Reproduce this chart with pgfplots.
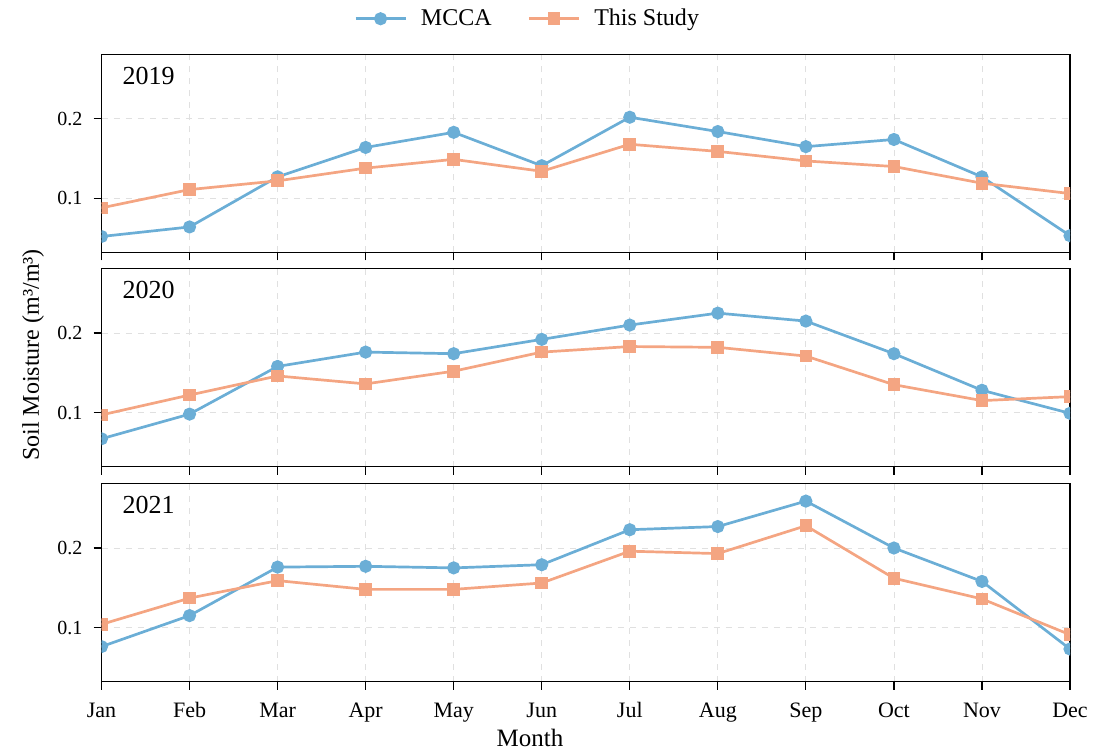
\documentclass[border=0pt]{standalone}
\usepackage{fontspec}
\setmainfont{Liberation Serif}
\usepackage{pgfplots}
\usepackage{pgfplotstable}
\pgfplotsset{compat=1.18}

\definecolor{mcca}{HTML}{6BAED6}
\definecolor{ours}{HTML}{F4A582}

% month index, MCCA, This Study
\pgfplotstableread{
m mcca ours
0  0.052 0.088
1  0.064 0.111
2  0.127 0.122
3  0.164 0.138
4  0.183 0.149
5  0.141 0.134
6  0.202 0.168
7  0.184 0.159
8  0.165 0.147
9  0.174 0.140
10 0.127 0.119
11 0.053 0.106
}\yrA
\pgfplotstableread{
m mcca ours
0  0.067 0.097
1  0.098 0.122
2  0.158 0.146
3  0.176 0.136
4  0.174 0.152
5  0.192 0.176
6  0.210 0.183
7  0.225 0.182
8  0.215 0.171
9  0.174 0.135
10 0.128 0.115
11 0.099 0.120
}\yrB
\pgfplotstableread{
m mcca ours
0  0.076 0.104
1  0.115 0.137
2  0.176 0.159
3  0.177 0.148
4  0.175 0.148
5  0.179 0.156
6  0.223 0.196
7  0.227 0.193
8  0.259 0.228
9  0.200 0.162
10 0.158 0.136
11 0.073 0.091
}\yrC

\tikzset{yr/.style={anchor=north west, font=\fontsize{13}{15}\selectfont, xshift=7pt, yshift=-3pt}}

\pgfplotsset{
  panel/.style={
    width=484.25pt, height=99pt, scale only axis,
    xmin=0, xmax=11, ymin=0.032, ymax=0.281,
    xtick={0,...,11}, xticklabels={}, ytick={0.1,0.2},
    tick pos=left, tick align=outside, major tick length=4pt,
    tick style={black, line width=0.6pt},
    axis line style={black, line width=0.6pt},
    grid=major, grid style={dashed, black!12, line width=0.4pt},
    /pgf/number format/assume math mode=true,
    yticklabel style={/pgf/number format/fixed, /pgf/number format/precision=1,
      font=\fontsize{10}{12}\selectfont, xshift=-2pt},
    xticklabel style={font=\fontsize{11}{13}\selectfont, yshift=-3pt},
    clip marker paths=true,
    legend image code/.code={
      \draw[mark repeat=2, mark phase=2, ##1] plot coordinates {(0pt,0pt) (12.5pt,0pt) (25pt,0pt)};},
  },
  mc/.style={color=mcca, line width=1.35pt, mark=*, mark size=2.6pt, mark options={fill=mcca, draw=mcca}},
  os/.style={color=ours, line width=1.35pt, mark=square*, mark size=2.5pt, mark options={fill=ours, draw=ours}},
}

\begin{document}
\begin{tikzpicture}
\useasboundingbox (0,0) rectangle (556pt,375.5pt);

\begin{axis}[panel, anchor=south west, at={(50.75pt,249.3pt)},
  legend columns=2,
  legend style={at={(0.441,1.18)}, anchor=center, draw=none, fill=none,
    font=\fontsize{12}{14}\selectfont,
    /tikz/every odd column/.append style={column sep=5pt},
    /tikz/every even column/.append style={column sep=16pt}}]
\addplot[mc] table[x=m, y=mcca] {\yrA};
\addlegendentry{MCCA}
\addplot[os] table[x=m, y=ours] {\yrA};
\addlegendentry{This Study}
\node[yr] at (rel axis cs:0,1) {2019};
\end{axis}

\begin{axis}[panel, anchor=south west, at={(50.75pt,142.2pt)}]
\addplot[mc] table[x=m, y=mcca] {\yrB};
\addplot[os] table[x=m, y=ours] {\yrB};
\node[yr] at (rel axis cs:0,1) {2020};
\end{axis}

\begin{axis}[panel, anchor=south west, at={(50.75pt,34.7pt)},
  xticklabels={Jan,Feb,Mar,Apr,May,Jun,Jul,Aug,Sep,Oct,Nov,Dec}]
\addplot[mc] table[x=m, y=mcca] {\yrC};
\addplot[os] table[x=m, y=ours] {\yrC};
\node[yr] at (rel axis cs:0,1) {2021};
\end{axis}

\node[anchor=base, font=\fontsize{12.5}{14}\selectfont] at (265pt,2.2pt) {Month};
\node[rotate=90, font=\fontsize{12}{14}\selectfont] at (16.5pt,198pt) {Soil Moisture (m³/m³)};
\end{tikzpicture}
\end{document}
